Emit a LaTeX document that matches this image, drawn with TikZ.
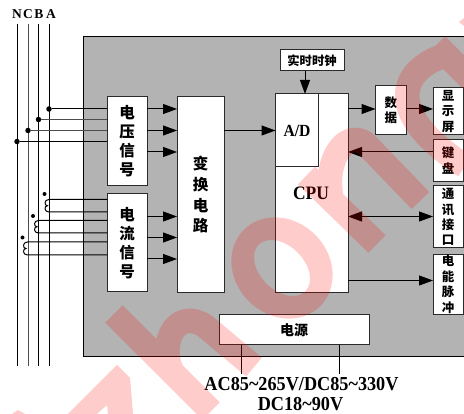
\documentclass[tikz,border=0pt]{standalone}
\usepackage{fontspec}
\setmainfont{Liberation Serif}
\newfontfamily\narrowserif[FakeStretch=0.92]{Liberation Serif}
\newfontfamily\cjk{Noto Sans CJK SC}
\usetikzlibrary{arrows.meta}
\definecolor{panel}{HTML}{B3B3B3}
\definecolor{edge}{HTML}{2A2A2A}
\tikzset{
  pbox/.style={draw=edge,fill=white,line width=1pt,inner sep=0pt,outer sep=0pt,align=center},
  cn/.style={font=\cjk\bfseries\fontsize{#1}{#1}\selectfont},
  vt/.style 2 args={font=\cjk\bfseries\fontsize{#1}{#2}\selectfont},
  conn/.style={line width=1pt,black},
  wire/.style={line width=1pt,black},
  arr/.style={conn,-{Triangle[length=14pt,width=10pt]}},
  darr/.style={conn,{Triangle[length=14pt,width=10pt]}-{Triangle[length=14pt,width=10pt]}},
  jdot/.style={circle,fill=black,inner sep=0pt,minimum size=5.5pt},
  mdot/.style={circle,fill=black,inner sep=0pt,minimum size=4pt},
  phase/.style={font=\bfseries\fontsize{13.5}{13.5}\selectfont,inner sep=0pt},
  serifb/.style={font=\narrowserif\bfseries\fontsize{19.8}{19.8}\selectfont,inner sep=0pt},
  mark wm/.style={red,opacity=.2},
}
\begin{document}
\begin{tikzpicture}[x=1pt,y=-1pt]
\useasboundingbox (0,0) rectangle (464,414);
\begin{scope}
\clip (0,0) rectangle (464,414);
% panel
\draw[fill=panel,line width=1pt] (83,36.5) rectangle (480,357);

% phase lines
\node[phase] (lN) at (17,14.5) {N};
\node[phase] (lC) at (28,14.5) {C};
\node[phase] (lB) at (39,14.5) {B};
\node[phase] (lA) at (51,14.5) {A};
\coordinate (sN) at (17,24);  \coordinate (eN) at (17,366);
\coordinate (sC) at (28,24);  \coordinate (eC) at (28,366);
\coordinate (sB) at (38.5,24); \coordinate (eB) at (38.5,366);
\coordinate (sA) at (49,24);  \coordinate (eA) at (49,366);
\draw[wire] (sN) -- (eN);
\draw[wire,draw=black!70] (sC) -- (eC);
\draw[wire] (sB) -- (eB);
\draw[wire] (sA) -- (eA);

% boxes
\node[pbox,minimum width=40pt,minimum height=89.5pt,vt={15.5}{19}] (volt) at (127,141.25) {电\\压\\信\\号};
\node[pbox,minimum width=40pt,minimum height=98pt,vt={15.5}{19}] (curr) at (127,243) {电\\流\\信\\号};
\node[pbox,minimum width=47pt,minimum height=196.5pt,vt={15.5}{20.6}] (conv) at (200.5,194.75) {变\\换\\电\\路};
\node[pbox,minimum width=72.5pt,minimum height=199pt] (cpu) at (311.75,193.5) {};
\node[font=\narrowserif\bfseries\fontsize{19}{19}\selectfont,inner sep=0pt] (cpulabel) at (311,193) {CPU};
\node[pbox,minimum width=43pt,minimum height=73pt,font=\narrowserif\bfseries\fontsize{17}{17}\selectfont] (ad) at (297,130.5) {A/D};
\node[pbox,minimum width=64pt,minimum height=21.5pt,cn=12.3] (clock) at (312,60.25) {实时时钟};
\node[pbox,minimum width=30.5pt,minimum height=49pt,vt={12.5}{15.5}] (data) at (390.75,110.5) {数\\据};
\node[pbox,minimum width=30pt,minimum height=47pt,vt={12.5}{15.5}] (disp) at (448,111.5) {显\\示\\屏};
\node[pbox,minimum width=30pt,minimum height=42.5pt,vt={12.5}{16}] (keys) at (448,160.75) {键\\盘};
\node[pbox,minimum width=30pt,minimum height=62pt,vt={12.5}{15.3}] (comm) at (448,217) {通\\讯\\接\\口};
\node[pbox,minimum width=30pt,minimum height=60pt,vt={12.5}{15.5}] (puls) at (448,284.5) {电\\能\\脉\\冲};
\node[pbox,minimum width=150pt,minimum height=30pt,cn=14] (power) at (294,330) {电源};
\node[serifb] (acdc) at (301.5,384) {AC85\char`\~265V/DC85\char`\~330V};
\node[serifb] (dc) at (300.5,404) {DC18\char`\~90V};

% voltage tap-offs
\node[jdot] (dA) at (49,109) {};
\node[jdot] (dB) at (38.5,119.5) {};
\node[jdot] (dC) at (28,130.5) {};
\node[jdot] (dN) at (17,141.5) {};
\draw[wire] (dA) -- (dA -| volt.west);
\draw[wire,draw=black!70] (dB) -- (dB -| volt.west);
\draw[wire,draw=black!70] (dC) -- (dC -| volt.west);
\draw[wire] (dN) -- (dN -| volt.west);

% current transformer coils
\node[mdot] (m1) at (44.5,194) {};
\node[mdot] (m2) at (33,216) {};
\node[mdot] (m3) at (22.5,237.5) {};
\coordinate (c1a) at (49,199.5); \coordinate (c1b) at (49,212);
\coordinate (c2a) at (38.5,220.5); \coordinate (c2b) at (38.5,233);
\coordinate (c3a) at (27.5,242); \coordinate (c3b) at (27.5,255);
\draw[wire] (curr.west |- c1a) -- (c1a) .. controls (44,199.5) and (44,205.75) .. (47.5,205.75) .. controls (44,205.75) and (44,212) .. (c1b) -- (curr.west |- c1b);
\draw[wire] (curr.west |- c2a) -- (c2a) .. controls (33.5,220.5) and (33.5,226.75) .. (37,226.75) .. controls (33.5,226.75) and (33.5,233) .. (c2b) -- (curr.west |- c2b);
\draw[wire] (curr.west |- c3a) -- (c3a) .. controls (22.5,242) and (22.5,248.5) .. (26,248.5) .. controls (22.5,248.5) and (22.5,255) .. (c3b) -- (curr.west |- c3b);

% arrows into the converter
\foreach \yy/\src in {109/volt,130.5/volt,152/volt,216.5/curr,237.5/curr,259/curr}
  \draw[arr] (\src.east |- 0,\yy) -- (conv.west |- 0,\yy);
\draw[arr] (conv.east |- ad.west) -- (ad.west);
\draw[arr] (clock.south -| 305,0) -- (ad.north -| 305,0);
\draw[arr] (cpu.east |- 0,109) -- (data.west |- 0,109);
\draw[arr] (data.east |- 0,109) -- (disp.west |- 0,109);
\draw[arr] (keys.west |- 0,152) -- (cpu.east |- 0,152);
\draw[darr] (cpu.east |- 0,216.5) -- (comm.west |- 0,216.5);
\draw[arr] (cpu.east |- 0,280.5) -- (puls.west |- 0,280.5);

% power feeds
\coordinate (f1) at (241.5,374);
\coordinate (f2) at (339,374);
\draw[conn] (power.south -| f1) -- (f1);
\draw[conn] (power.south -| f2) -- (f2);

% watermark
\draw[mark wm,line width=24.5pt,line cap=butt,line join=round]
  (114,314) -- (211,411)
  (172,372) .. controls (158,340) and (178,308) .. (205,326) -- (254,367)
  (306.5,175.5) -- (377,244)
  (331,195) .. controls (325,160) and (345,130) .. (365,143) -- (420.5,200.5)
  (436.5,45) -- (490,98.5)
  (440,57) .. controls (395,75) and (390,118) .. (465,166);
\fill[mark wm,even odd rule,rotate around={-45:(282,268)}]
  (282,268) ellipse [x radius=54pt,y radius=47pt]
  (282,268) ellipse [x radius=33pt,y radius=22pt];
\fill[mark wm] (68,414) -- (117,365) -- (130,378) -- (133,414) -- (108,414) -- (107,405) -- (97,414) -- cycle;
\fill[mark wm] (12,414) -- (18,410) -- (25,414) -- cycle;
\fill[mark wm] (464,18) -- (459,22) -- (464,26) -- cycle;
\end{scope}
\end{tikzpicture}
\end{document}
